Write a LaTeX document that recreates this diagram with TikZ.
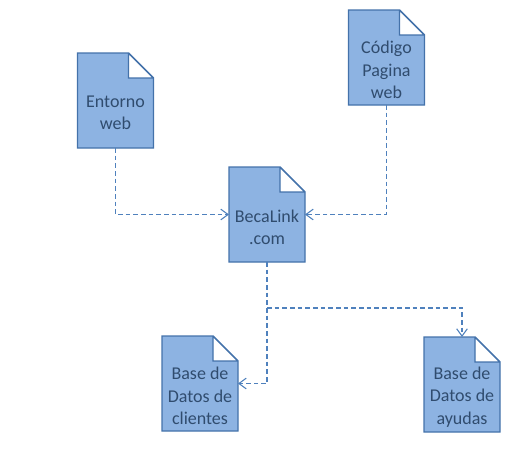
\documentclass[tikz,border=0pt]{standalone}
\usepackage{xcolor}
\usepackage{fontspec}
\setmainfont{Carlito}
\usepackage{tikz}
\usetikzlibrary{positioning, calc, arrows.meta, backgrounds}

\definecolor{docfill}{RGB}{141,179,226}
\definecolor{docline}{RGB}{68,114,170}
\definecolor{doctext}{RGB}{48,76,110}
\definecolor{connblue}{RGB}{79,129,189}

\begin{document}
\begin{tikzpicture}[x=0.75pt, y=-0.75pt]
	\tikzstyle{doc}=[minimum width=57pt, minimum height=71.25pt, inner sep=0pt, outer sep=0pt]
	\tikzstyle{doctxt}=[align=center, text=doctext, font=\fontsize{13.5}{16.8}\selectfont, yshift=-9.4pt]
	\tikzstyle{conn}=[draw=connblue, line width=0.8pt, dash pattern=on 3.5pt off 2.25pt,
		-{Straight Barb[length=5.5pt, width=8pt]}]
	\useasboundingbox (0,0) rectangle (520,454);
	% documentos
	\node[doc, label={[doctxt]center:Entorno\\web}](entorno) at (115.5,100.5){};
	\node[doc, label={[doctxt]center:Código\\Pagina\\web}](codigo) at (386.5,57.5){};
	\node[doc, label={[doctxt]center:BecaLink\\.com}](becalink) at (267,214.5){};
	\node[doc, label={[doctxt]center:Base de\\Datos de\\clientes}](clientes) at (200,383.5){};
	\node[doc, label={[doctxt]center:Base de\\Datos de\\ayudas}](ayudas) at (462,384.5){};
	\begin{scope}[on background layer]
		\foreach \n in {entorno, codigo, becalink, clientes, ayudas}
			\draw[docline, fill=docfill, line width=1.1pt]
				(\n.south west) -- (\n.north west) -- ([xshift=-18.75pt]\n.north east)
				-- ([yshift=-18.75pt]\n.north east) -- (\n.south east) -- cycle
				([xshift=-18.75pt]\n.north east) |- ([yshift=-18.75pt]\n.north east);
	\end{scope}
	% conexiones
	\coordinate (split) at ($(becalink.south)+(0,46)$);
	\draw[conn] (entorno.south) |- (becalink.west);
	\draw[conn] (codigo.south) |- (becalink.east);
	\draw[conn] (becalink.south) |- (clientes.east);
	\draw[conn] (split) -| (ayudas.north);
\end{tikzpicture}
\end{document}
